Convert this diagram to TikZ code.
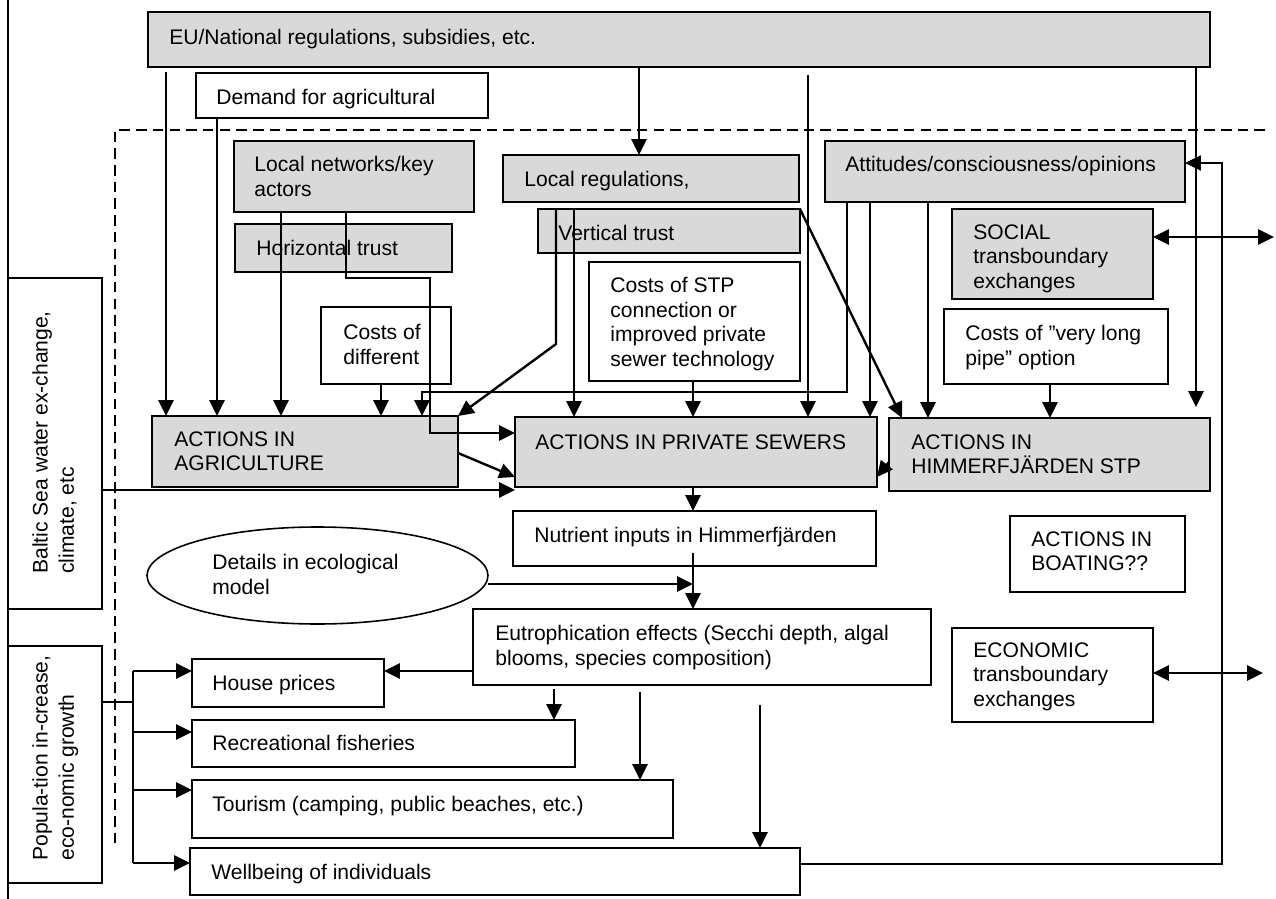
\documentclass[tikz,border=0pt]{standalone}
\usepackage{fontspec}
\setmainfont{Liberation Sans}
\usetikzlibrary{arrows.meta,shapes.geometric}
\definecolor{boxgray}{RGB}{217,217,217}

% box with corners (#3,#4) and (#5,#6), in pixel-like units
\newcommand{\cornerbox}[6]{%
  \node[#1, minimum width={(#5-#3)*0.02cm}, minimum height={(#6-#4)*0.02cm}]
    (#2) at ({(#3+#5)/2},{(#4+#6)/2}) {};}
% label whose first line is centred at height #3
\newcommand{\boxlabel}[4]{\node[txt] (#1) at (#2,{#3-8}) {#4};}

\begin{document}
\begin{tikzpicture}[x=0.02cm,y=-0.02cm,
  box/.style={draw, line width=1.1pt, inner sep=0pt, outer sep=0pt},
  gbox/.style={box, fill=boxgray},
  wbox/.style={box, fill=white},
  txt/.style={anchor=north west, inner sep=0pt, align=left,
              font=\fontsize{12}{14}\selectfont},
  conn/.style={line width=1.35pt},
  tip/.tip={Triangle[length=9pt,width=8.5pt]},
  arr/.style={conn, -tip},
  darr/.style={conn, tip-tip},
  bound/.style={line width=0.9pt, dash pattern=on 6pt off 3.5pt}]

\useasboundingbox (0,0) rectangle (1276,899);

% left frame line and system boundary
\draw[conn, line width=1.1pt] (8,0) -- (8,899);
\draw[bound] (1265,130) -| (115,846);

% boxes
\cornerbox{gbox}{eu}{148}{12}{1210}{67}
\cornerbox{wbox}{demand}{196}{73}{488}{118}
\cornerbox{gbox}{localnet}{234}{141}{474}{212}
\cornerbox{gbox}{htrust}{235}{224}{452}{272}
\cornerbox{gbox}{localregs}{503}{155}{799}{202}
\cornerbox{gbox}{vtrust}{538}{209}{800}{253}
\cornerbox{wbox}{costsstp}{589}{262}{800}{381}
\cornerbox{wbox}{costsdiff}{321}{307}{451}{384}
\cornerbox{gbox}{attitudes}{825}{141}{1185}{202}
\cornerbox{gbox}{social}{952}{209}{1153}{299}
\cornerbox{wbox}{longpipe}{944}{309}{1168}{384}
\cornerbox{gbox}{agri}{152}{416}{458}{487}
\cornerbox{gbox}{sewers}{515}{417}{877}{487}
\cornerbox{gbox}{himmerf}{889}{418}{1210}{491}
\cornerbox{wbox}{nutrient}{513}{511}{876}{566}
\cornerbox{wbox}{boating}{1010}{516}{1185}{592}
\cornerbox{wbox, ellipse, line width=0.9pt}{details}{147}{527}{488}{624}
\cornerbox{wbox}{eutro}{473}{609}{931}{685}
\cornerbox{wbox}{economic}{952}{628}{1153}{722}
\cornerbox{wbox}{house}{192}{659}{384}{707}
\cornerbox{wbox}{rec}{192}{720}{575}{767}
\cornerbox{wbox}{tourism}{192}{780}{673}{838}
\cornerbox{wbox}{wellbeing}{190}{848}{800}{895}
\cornerbox{wbox}{baltic}{8}{278}{102}{609}
\cornerbox{wbox}{pop}{8}{646}{102}{883}

% free ends
\coordinate (join) at (693,584);
\coordinate (socout) at (1274,237);
\coordinate (ecoout) at (1263,673);
\coordinate (pj) at (133,702);

% influences on agriculture
\draw[arr] ([yshift=-0.1cm]eu.south -| 166,0) -- (agri.north -| 166,0);
\draw[arr] (demand.south -| 217,0) -- (agri.north -| 217,0);
\draw[arr] (localnet.south -| 281,0) -- (agri.north -| 281,0);
\draw[arr] (costsdiff.south -| 381,0) -- (agri.north -| 381,0);
\draw[arr] (attitudes.south -| 847,0) |- (422,392) -- (agri.north -| 422,0);
\draw[arr] (vtrust.north -| 556,0) -- (556,344) -- (agri.north east);

% influences on private sewers
\draw[arr] (localnet.south -| 346,0) |- (430,278) |- (sewers.west |- 0,433);
\draw[arr] (vtrust.north -| 574,0) -- (sewers.north -| 574,0);
\draw[arr] (costsstp.south -| 693,0) -- (sewers.north -| 693,0);
\draw[arr] ([yshift=-0.16cm]eu.south -| 808,0) -- (sewers.north -| 808,0);
\draw[arr] (attitudes.south -| 870,0) -- (sewers.north -| 870,0);
\draw[arr] (agri.east |- 0,453) -- (sewers.west |- 0,477);
\draw[arr] (baltic.east |- 0,490) -- (sewers.west |- 0,490);
\draw[arr] (himmerf.west |- 0,462) -- (sewers.east |- 0,477);

% regulations
\draw[arr] (eu.south -| 639,0) -- (localregs.north -| 639,0);

% influences on the treatment plant
\draw[arr] (vtrust.north east) -- (himmerf.north -| 902,0);
\draw[arr] (attitudes.south -| 928,0) -- (himmerf.north -| 928,0);
\draw[arr] (longpipe.south -| 1050,0) -- (himmerf.north -| 1050,0);
\draw[arr, shorten >=0.22cm] (eu.south -| 1196,0) -- (himmerf.north -| 1196,0);

% nutrient chain
\draw[arr] (sewers.south -| 693,0) -- (nutrient.north -| 693,0);
\draw[arr] ([yshift=0.26cm]nutrient.south -| 693,0) -- (eutro.north -| 693,0);
\draw[arr] (details.east |- 0,584) -- (join);

% effects
\draw[arr] (eutro.west |- 0,671) -- (house.east |- 0,671);
\draw[arr] ([yshift=-0.08cm]eutro.south -| 554,0) -- (rec.north -| 554,0);
\draw[arr] ([yshift=-0.14cm]eutro.south -| 640,0) -- (tourism.north -| 640,0);
\draw[arr] ([yshift=-0.4cm]eutro.south -| 760,0) -- (wellbeing.north -| 760,0);
\draw[arr, line width=1.1pt] (wellbeing.east |- 0,864) -| (1222,163) -- (attitudes.east |- 0,163);

% transboundary exchanges
\draw[darr] (social.east |- 0,237) -- (socout);
\draw[darr] (economic.east |- 0,673) -- (ecoout);

% population and growth
\draw[conn] (pop.east |- pj) -- (pj);
\draw[conn] (pj |- 0,671) -- (pj |- 0,863);
\draw[arr] (pj |- 0,671) -- (house.west |- 0,671);
\draw[arr] (pj |- 0,732) -- (rec.west |- 0,732);
\draw[arr] (pj |- 0,790) -- (tourism.west |- 0,790);
\draw[arr] (pj |- 0,863) -- (wellbeing.west |- 0,863);

% labels
\boxlabel{t-eu}{169}{37}{EU/National regulations, subsidies, etc.}
\boxlabel{t-demand}{216}{97}{Demand for agricultural}
\boxlabel{t-localnet}{254}{164}{Local networks/key\\actors}
\boxlabel{t-htrust}{256}{248}{Horizontal trust}
\boxlabel{t-localregs}{524}{179}{Local regulations,}
\boxlabel{t-vtrust}{558}{233}{Vertical trust}
\boxlabel{t-costsstp}{610}{285}{Costs of STP\\connection or\\improved private\\sewer technology}
\boxlabel{t-costsdiff}{343}{332}{Costs of\\different}
\boxlabel{t-attitudes}{845}{164}{Attitudes/consciousness/opinions}
\boxlabel{t-social}{973}{232}{SOCIAL\\transboundary\\exchanges}
\boxlabel{t-longpipe}{965}{333}{Costs of ”very long\\pipe” option}
\boxlabel{t-agri}{174}{439}{ACTIONS IN\\AGRICULTURE}
\boxlabel{t-sewers}{535}{442}{ACTIONS IN PRIVATE SEWERS}
\boxlabel{t-himmerf}{911}{442}{ACTIONS IN\\HIMMERFJÄRDEN STP}
\boxlabel{t-nutrient}{534}{535}{Nutrient inputs in Himmerfjärden}
\boxlabel{t-boating}{1031}{539}{ACTIONS IN\\BOATING??}
\boxlabel{t-details}{212}{562}{Details in ecological\\model}
\boxlabel{t-eutro}{495}{633}{Eutrophication effects (Secchi depth, algal\\blooms, species composition)}
\boxlabel{t-economic}{973}{650}{ECONOMIC\\transboundary\\exchanges}
\boxlabel{t-house}{212}{683}{House prices}
\boxlabel{t-rec}{212}{743}{Recreational fisheries}
\boxlabel{t-tourism}{212}{804}{Tourism (camping, public beaches, etc.)}
\boxlabel{t-wellbeing}{211}{872}{Wellbeing of individuals}
\node[txt, rotate=90, font=\fontsize{12}{15}\selectfont] (t-baltic) at (32,574)
  {Baltic Sea water ex-change,\\climate, etc};
\node[txt, rotate=90, font=\fontsize{12}{15}\selectfont] (t-pop) at (32,861)
  {Popula-tion in-crease,\\eco-nomic growth};
\end{tikzpicture}
\end{document}
